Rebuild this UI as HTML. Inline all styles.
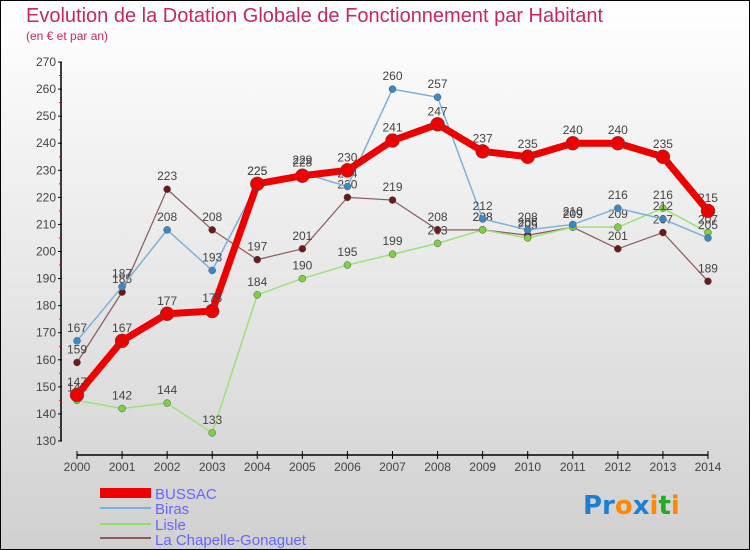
<!DOCTYPE html>
<html><head><meta charset="utf-8"><style>
body{margin:0}
#c{width:750px;height:550px;position:relative;background:linear-gradient(#ffffff,#d0d0d0);box-sizing:border-box;border:1px solid #000;overflow:hidden;font-family:"Liberation Sans",sans-serif}
</style></head><body>
<div id="c">
<svg id="s" width="750" height="550" style="position:absolute;left:-1px;top:-1px">
<text x="26" y="22" font-size="20" fill="#c8285a">Evolution de la Dotation Globale de Fonctionnement par Habitant</text>
<text x="26" y="40" font-size="12" fill="#c8285a">(en € et par an)</text>
<g id="axes"></g><g id="plot"></g>
<g>
<rect x="100" y="488" width="51" height="10" fill="#e00"/>
<text x="155" y="499" font-size="15" fill="#6666ff">BUSSAC</text>
<rect x="100" y="507" width="51" height="2" fill="#7fb0d8"/>
<text x="155" y="514" font-size="15" fill="#6666ff">Biras</text>
<rect x="100" y="523" width="51" height="2" fill="#8ee06a"/>
<text x="155" y="530" font-size="15" fill="#6666ff">Lisle</text>
<rect x="100" y="537" width="51" height="2" fill="#8b5a5a"/>
<text x="155" y="545" font-size="15" fill="#6666ff">La Chapelle-Gonaguet</text>
</g>
<text x="583" y="514" font-size="26" font-family="DejaVu Sans" font-weight="bold"><tspan fill="#1e7fd0">Pr</tspan><tspan fill="#ff8800">o</tspan><tspan fill="#1e7fd0">x</tspan><tspan fill="#ff8800">i</tspan><tspan fill="#22aa22">t</tspan><tspan fill="#ff8800">i</tspan></text>
</svg></div>
<script>
const years=[2000,2001,2002,2003,2004,2005,2006,2007,2008,2009,2010,2011,2012,2013,2014];
const yTicks=[130,140,150,160,170,180,190,200,210,220,230,240,250,260,270];
const bussac=[147,167,177,178,225,228,230,241,247,237,235,240,240,235,215];
const biras=[167,187,208,193,225,229,224,260,257,212,208,210,216,212,205];
const lisle=[145,142,144,133,184,190,195,199,203,208,205,209,209,216,207];
const chapelle=[159,185,223,208,197,201,220,219,208,208,206,209,201,207,189];
const NS="http://www.w3.org/2000/svg";
const X=i=>77+i*45.07, Y=v=>441-(v-130)*2.707;
function mk(t,a,p){const e=document.createElementNS(NS,t);for(const k in a)e.setAttribute(k,a[k]);p.appendChild(e);return e;}
const ax=document.getElementById('axes'),pl=document.getElementById('plot');
let yl=mk('line',{x1:61,y1:Y(270),x2:61,y2:Y(130),stroke:'#000','stroke-width':1.5},ax);

yTicks.forEach(v=>{mk('line',{x1:58,y1:Y(v),x2:62,y2:Y(v),stroke:'#000'},ax);
 if(v<270)mk('line',{x1:59,y1:Y(v+5),x2:62,y2:Y(v+5),stroke:'#e00'},ax);
 const t=mk('text',{x:56,y:Y(v)+4,'font-size':12,'text-anchor':'end',fill:'#444'},ax);t.textContent=v;
 });
let xl=mk('line',{x1:X(0),y1:455,x2:X(14),y2:455,stroke:'#000','stroke-width':1.5},ax);

years.forEach((y,i)=>{mk('line',{x1:X(i),y1:451,x2:X(i),y2:459,stroke:'#000'},ax);
 const t=mk('text',{x:X(i),y:471,'font-size':12,'text-anchor':'middle',fill:'#444'},ax);t.textContent=y;
 });
function series(d,col,w,r,name,dot){const g=mk('g',{},pl);
 
 mk('polyline',{points:d.map((v,i)=>X(i)+','+Y(v)).join(' '),fill:'none',stroke:col,'stroke-width':w,'stroke-linejoin':'round'},g);
 d.forEach((v,i)=>{const c=mk('circle',{cx:X(i),cy:Y(v),r:r,fill:dot,stroke:'#555','stroke-width':0.5},g);
  
  const t=mk('text',{x:X(i),y:Y(v)-9,'font-size':12,'text-anchor':'middle',fill:'#444'},g);t.textContent=v;});}
series(chapelle,'#8b5a5a',1.2,3.5,'chapelle','#6b1a1a');
series(lisle,'#9ee07a',1.5,3.5,'lisle','#7ed040');
series(biras,'#7fb0d8',1.5,3.5,'biras','#3a88c8');
series(bussac,'#ee0000',7,7,'bussac','#ee0000');
</script>
</body></html>
